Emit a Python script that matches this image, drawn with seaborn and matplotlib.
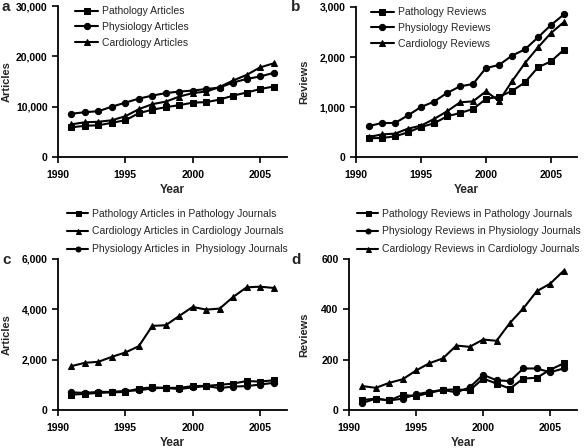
import numpy as np
import pandas as pd
import matplotlib
matplotlib.use("Agg")
import matplotlib.pyplot as plt
import seaborn as sns

years = list(range(1991, 2007))

# Panel a - articles
path_articles = [5900, 6200, 6300, 6800, 7300, 8700, 9400, 9900, 10300, 10800, 10900, 11400, 12200, 12800, 13500, 14000]
phys_articles = [8600, 8900, 9100, 10000, 10800, 11600, 12200, 12700, 13000, 13200, 13500, 13800, 14800, 15500, 16000, 16700]
card_articles = [6500, 6900, 7000, 7300, 8100, 9500, 10500, 11000, 12000, 12700, 13000, 13900, 15200, 16300, 17800, 18600]

# Panel b - reviews
path_reviews = [375, 380, 413, 493, 600, 673, 813, 880, 960, 1160, 1207, 1320, 1493, 1793, 1913, 2147]
phys_reviews = [620, 680, 680, 833, 1000, 1107, 1280, 1413, 1460, 1780, 1840, 2027, 2153, 2393, 2640, 2853]
card_reviews = [400, 453, 467, 567, 627, 760, 913, 1093, 1113, 1313, 1120, 1513, 1880, 2193, 2480, 2700]

# Panel c - articles in own journals
path_art_j = [610, 640, 680, 700, 720, 850, 900, 880, 880, 950, 960, 1000, 1050, 1150, 1130, 1180]
card_art_j = [1744, 1876, 1915, 2114, 2285, 2536, 3342, 3368, 3738, 4095, 3989, 4029, 4491, 4874, 4900, 4850]
phys_art_j = [700, 680, 720, 720, 760, 780, 860, 880, 830, 900, 950, 870, 930, 950, 1010, 1080]

# Panel d - reviews in own journals
path_rev_j = [40, 45, 38, 60, 55, 68, 80, 82, 78, 125, 105, 85, 125, 128, 160, 185]
phys_rev_j = [28, 45, 38, 45, 62, 72, 80, 70, 90, 140, 118, 115, 165, 165, 150, 165]
card_rev_j = [95, 88, 108, 122, 157, 186, 205, 256, 251, 280, 275, 346, 404, 472, 502, 553]

sns.set_style("ticks")
plt.rcParams["font.family"] = ["Liberation Sans", "DejaVu Sans"]

fig = plt.figure(figsize=(5.85, 4.48), dpi=100)
W, H = 585, 448


def add_axes(left, top, right, bottom):
    return fig.add_axes([left / W, 1 - bottom / H, (right - left) / W, (bottom - top) / H])


def draw(ax, series, ymax, ystep, ylabel, letter, letter_xy, ylabel_x):
    for name, vals, mk in series:
        sns.lineplot(x=years, y=vals, ax=ax, color="black", marker=mk,
                     markersize=4.5, markeredgecolor="black", linewidth=1.5,
                     label=name, legend=False)
    ax.set_xlim(1990, 2007)
    ax.set_ylim(0, ymax)
    ax.set_xticks([1990, 1995, 2000, 2005])
    ax.set_yticks(np.arange(0, ymax + 1, ystep))
    ax.set_yticklabels([f"{int(v):,}" for v in np.arange(0, ymax + 1, ystep)])
    for s in ["top", "right"]:
        ax.spines[s].set_visible(False)
    for s in ["left", "bottom"]:
        ax.spines[s].set_linewidth(1.3)
        ax.spines[s].set_color("black")
    ax.tick_params(axis="y", direction="out", length=4.5, width=1.2, labelsize=7.5, colors="black", pad=3)
    ax.tick_params(axis="x", direction="out", length=4.5, width=1.2, labelsize=7.5, colors="black", pad=5)
    for lab in ax.get_xticklabels() + ax.get_yticklabels():
        lab.set_fontweight("bold")
    ax.set_xlabel("Year", fontsize=8.5, fontweight="bold", labelpad=3)
    ax.set_ylabel(ylabel, fontsize=8, fontweight="bold")
    ax.yaxis.set_label_coords(ylabel_x / W, 0.5)
    ax.yaxis.label.set_transform(
        matplotlib.transforms.blended_transform_factory(fig.transFigure, ax.transAxes))
    fig.text(letter_xy[0] / W, 1 - letter_xy[1] / H, letter, fontsize=11,
             fontweight="bold", va="center", ha="left")


ax_a = add_axes(58, 6, 287, 157)
draw(ax_a, [("Pathology Articles", path_articles, "s"),
            ("Physiology Articles", phys_articles, "o"),
            ("Cardiology Articles", card_articles, "^")],
     30000, 10000, "Articles", "a", (1, 7), 12)
ax_a.legend(loc="upper left", bbox_to_anchor=(0.035, 1.06), frameon=False,
            fontsize=7.5, handlelength=2.2, handletextpad=0.4, labelspacing=0.55)

ax_b = add_axes(356, 7, 577, 157)
draw(ax_b, [("Pathology Reviews", path_reviews, "s"),
            ("Physiology Reviews", phys_reviews, "o"),
            ("Cardiology Reviews", card_reviews, "^")],
     3000, 1000, "Reviews", "b", (291, 7), 309)
ax_b.legend(loc="upper left", bbox_to_anchor=(0.025, 1.06), frameon=False,
            fontsize=7.5, handlelength=2.2, handletextpad=0.4, labelspacing=0.55)

ax_c = add_axes(58, 259, 287, 410)
draw(ax_c, [("Pathology Articles in Pathology Journals", path_art_j, "s"),
            ("Cardiology Articles in Cardiology Journals", card_art_j, "^"),
            ("Physiology Articles in  Physiology Journals", phys_art_j, "o")],
     6000, 2000, "Articles", "c", (2, 260), 12)
ax_c.legend(loc="lower left", bbox_to_anchor=(0.0, 0.97), frameon=False,
            fontsize=7.5, handlelength=2.0, handletextpad=0.4, labelspacing=0.75,
            markerscale=0.8)

ax_d = add_axes(349, 259, 577, 410)
draw(ax_d, [("Pathology Reviews in Pathology Journals", path_rev_j, "s"),
            ("Physiology Reviews in Physiology Journals", phys_rev_j, "o"),
            ("Cardiology Reviews in Cardiology Journals", card_rev_j, "^")],
     600, 200, "Reviews", "d", (291, 260), 309)
ax_d.legend(loc="lower left", bbox_to_anchor=(-0.005, 0.97), frameon=False,
            fontsize=7.5, handlelength=2.0, handletextpad=0.4, labelspacing=0.75,
            markerscale=0.8)

fig.savefig("out.png", dpi=100)
